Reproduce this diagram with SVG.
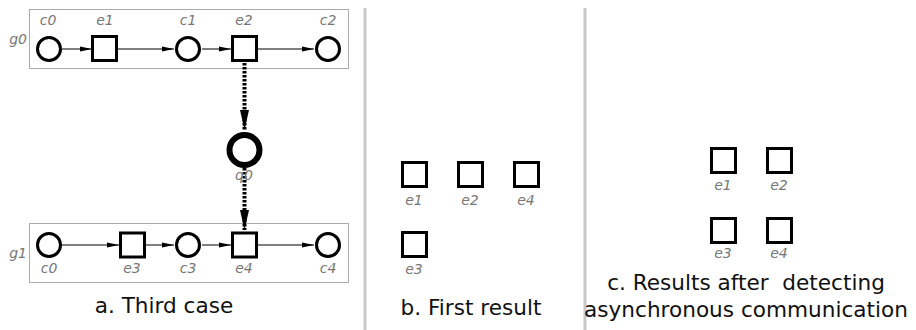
<svg xmlns="http://www.w3.org/2000/svg" width="916" height="330" viewBox="0 0 916 330">
<defs>
<marker id="thin" markerUnits="userSpaceOnUse" markerWidth="12" markerHeight="6" refX="12" refY="3" orient="auto"><path d="M0,0.5 L12,3 L0,5.5 Z" fill="#000"/></marker>
<marker id="thick" markerUnits="userSpaceOnUse" markerWidth="20" markerHeight="10" refX="20" refY="5" orient="auto"><path d="M0,0.5 L20,5 L0,9.5 Z" fill="#000"/></marker>
</defs>
<style>
.grp{fill:none;stroke:#aaa;stroke-width:1}
.c{fill:#fff;stroke:#000;stroke-width:3}
.q{fill:#fff;stroke:#000;stroke-width:6}
.s{fill:#fff;stroke:#000;stroke-width:3}
.lbl{font-family:"DejaVu Sans",Verdana,sans-serif;font-style:italic;font-size:14px;fill:#777;text-anchor:middle}
.glbl{font-family:"DejaVu Sans",Verdana,sans-serif;font-style:italic;font-size:14px;fill:#777;text-anchor:end}
.title{font-family:"DejaVu Sans",Verdana,sans-serif;font-size:21.6px;fill:#111;text-anchor:middle}
.sep{stroke:#c8c8c8;stroke-width:3}
.e{stroke:#000;stroke-width:1;fill:none;marker-end:url(#thin)}
.d{stroke:#000;stroke-width:4;stroke-dasharray:2.5 1.5;fill:none;marker-end:url(#thick)}
</style>
<g id="separators">
<line class="sep" x1="365" y1="8" x2="365" y2="330"/>
<line class="sep" x1="585" y1="8" x2="585" y2="330"/>
</g>
<g id="g0">
<rect class="grp" x="29.5" y="9.5" width="319" height="59"/>
<text class="glbl" x="27" y="44">g0</text>
</g>
<g id="g1">
<rect class="grp" x="29.5" y="223.5" width="319" height="59"/>
<text class="glbl" x="27" y="258">g1</text>
</g>
<g id="connectors">
<line class="e" x1="62" y1="49" x2="92" y2="49"/>
<line class="e" x1="118" y1="49" x2="174" y2="49"/>
<line class="e" x1="202" y1="49" x2="231" y2="49"/>
<line class="e" x1="258" y1="49" x2="314" y2="49"/>
<line class="e" x1="62" y1="245" x2="119" y2="245"/>
<line class="e" x1="146" y1="245" x2="174" y2="245"/>
<line class="e" x1="202" y1="245" x2="231" y2="245"/>
<line class="e" x1="258" y1="245" x2="314" y2="245"/>
<line class="d" x1="244.5" y1="63" x2="244.5" y2="130"/>
<line class="d" x1="244.5" y1="168" x2="244.5" y2="230"/>
</g>
<g id="a_c0"><circle class="c" cx="49" cy="49" r="11.5"/><text class="lbl" x="48" y="25">c0</text></g>
<g id="a_e1"><rect class="s" x="92.5" y="36.5" width="24" height="24"/><text class="lbl" x="105" y="25">e1</text></g>
<g id="a_c1"><circle class="c" cx="188" cy="49" r="11.5"/><text class="lbl" x="188" y="25">c1</text></g>
<g id="a_e2"><rect class="s" x="232.5" y="36.5" width="24" height="24"/><text class="lbl" x="244" y="25">e2</text></g>
<g id="a_c2"><circle class="c" cx="328" cy="49" r="11.5"/><text class="lbl" x="328" y="25">c2</text></g>
<g id="a_q0"><circle class="q" cx="244.5" cy="150" r="15"/><text class="lbl" x="244" y="180">q0</text></g>
<g id="a_c0b"><circle class="c" cx="49" cy="245" r="11.5"/><text class="lbl" x="49" y="273">c0</text></g>
<g id="a_e3"><rect class="s" x="120.5" y="233" width="24" height="24"/><text class="lbl" x="132" y="273">e3</text></g>
<g id="a_c3"><circle class="c" cx="188" cy="245" r="11.5"/><text class="lbl" x="188" y="273">c3</text></g>
<g id="a_e4"><rect class="s" x="232.5" y="233" width="24" height="24"/><text class="lbl" x="244" y="273">e4</text></g>
<g id="a_c4"><circle class="c" cx="328" cy="245" r="11.5"/><text class="lbl" x="328" y="273">c4</text></g>
<text class="title" x="164" y="313">a. Third case</text>
<g id="b_e1"><rect class="s" x="402.5" y="162.5" width="24" height="24"/><text class="lbl" x="414" y="205">e1</text></g>
<g id="b_e2"><rect class="s" x="458.5" y="162.5" width="24" height="24"/><text class="lbl" x="470" y="205">e2</text></g>
<g id="b_e4"><rect class="s" x="514.5" y="162.5" width="24" height="24"/><text class="lbl" x="526" y="205">e4</text></g>
<g id="b_e3"><rect class="s" x="402.5" y="232.5" width="24" height="24"/><text class="lbl" x="414" y="274">e3</text></g>
<text class="title" x="471" y="315">b. First result</text>
<g id="c_e1"><rect class="s" x="711.5" y="148.5" width="24" height="24"/><text class="lbl" x="723" y="190">e1</text></g>
<g id="c_e2"><rect class="s" x="767.5" y="148.5" width="24" height="24"/><text class="lbl" x="779" y="190">e2</text></g>
<g id="c_e3"><rect class="s" x="711.5" y="218.5" width="24" height="24"/><text class="lbl" x="723" y="258">e3</text></g>
<g id="c_e4"><rect class="s" x="767.5" y="218.5" width="24" height="24"/><text class="lbl" x="779" y="258">e4</text></g>
<text class="title" x="746" y="290" xml:space="preserve">c. Results after  detecting</text>
<text class="title" x="746" y="317">asynchronous communication</text>
</svg>
